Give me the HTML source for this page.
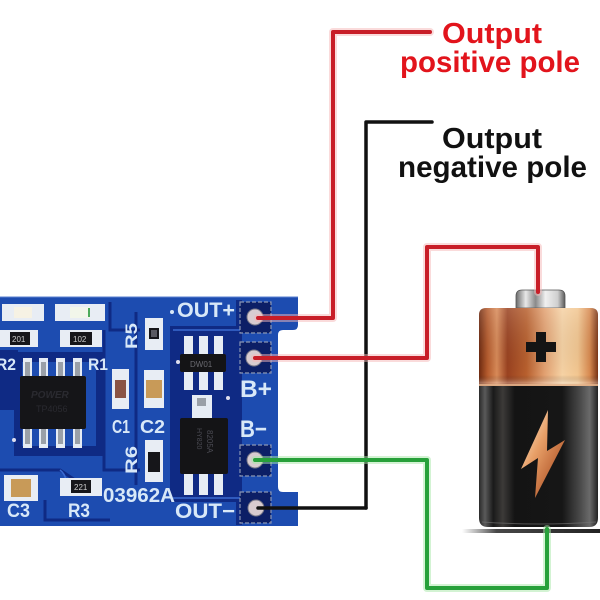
<!DOCTYPE html>
<html><head><meta charset="utf-8"><style>html,body{margin:0;padding:0;background:#fff;width:600px;height:600px;overflow:hidden}svg{display:block}</style></head><body>
<svg width="600" height="600" viewBox="0 0 600 600" xmlns="http://www.w3.org/2000/svg" font-family="'Liberation Sans', sans-serif">
<defs>
 <linearGradient id="cu" x1="0" x2="1" y1="0" y2="0">
  <stop offset="0" stop-color="#6e2a10"/><stop offset="0.07" stop-color="#b45a2c"/><stop offset="0.15" stop-color="#d88a58"/>
  <stop offset="0.24" stop-color="#9a4220"/><stop offset="0.4" stop-color="#b8602e"/><stop offset="0.55" stop-color="#e2a070"/>
  <stop offset="0.7" stop-color="#f6d2a4"/><stop offset="0.83" stop-color="#f2c690"/><stop offset="0.93" stop-color="#d88a50"/><stop offset="1" stop-color="#7a3414"/>
 </linearGradient>
 <linearGradient id="cuv" x1="0" x2="0" y1="0" y2="1">
  <stop offset="0" stop-color="#fff" stop-opacity="0.15"/><stop offset="0.85" stop-color="#000" stop-opacity="0"/><stop offset="0.95" stop-color="#fff" stop-opacity="0.3"/><stop offset="1" stop-color="#000" stop-opacity="0.2"/>
 </linearGradient>
 <linearGradient id="bk" x1="0" x2="1" y1="0" y2="0">
  <stop offset="0" stop-color="#2a2a2a"/><stop offset="0.05" stop-color="#5a5a5a"/><stop offset="0.12" stop-color="#1a1a1a"/>
  <stop offset="0.2" stop-color="#3c3a38"/><stop offset="0.3" stop-color="#141414"/><stop offset="0.7" stop-color="#161616"/>
  <stop offset="0.85" stop-color="#4a4a4a"/><stop offset="0.93" stop-color="#6a6a6a"/><stop offset="1" stop-color="#222"/>
 </linearGradient>
 <linearGradient id="cap" x1="0" x2="1" y1="0" y2="0">
  <stop offset="0" stop-color="#6a6a6a"/><stop offset="0.2" stop-color="#e8e8e8"/><stop offset="0.4" stop-color="#8a8a8a"/>
  <stop offset="0.6" stop-color="#f0f0f0"/><stop offset="0.85" stop-color="#cfcfcf"/><stop offset="1" stop-color="#5a5a5a"/>
 </linearGradient>
 <linearGradient id="bolt" x1="0" x2="1" y1="0" y2="1">
  <stop offset="0" stop-color="#fff4e0"/><stop offset="0.4" stop-color="#e8a068"/><stop offset="0.7" stop-color="#c06a3a"/><stop offset="1" stop-color="#f8e0c8"/>
 </linearGradient>
 <linearGradient id="shd" x1="0" x2="1" y1="0" y2="0">
  <stop offset="0" stop-color="#444" stop-opacity="0"/><stop offset="0.25" stop-color="#333" stop-opacity="0.9"/><stop offset="1" stop-color="#222"/>
 </linearGradient>
</defs>

<!-- PCB -->
<path d="M0,297 H298 V325 Q298,330 293,330 H283 Q278,330 278,335 V487 Q278,492 283,492 H298 V526 H0 Z" fill="#1d4cb0"/>
<path d="M0,297 H298" stroke="#5a80d0" stroke-width="1"/>
<!-- dark regions / traces -->
<g fill="#0f2a84">
 <rect x="0" y="350" width="18" height="60"/>
 <rect x="14" y="352" width="88" height="10"/>
 <rect x="14" y="446" width="88" height="10"/>
 <rect x="14" y="352" width="8" height="104"/>
 <rect x="96" y="352" width="8" height="104"/>
 <rect x="170" y="326" width="70" height="176"/>
 <rect x="236" y="300" width="6" height="225"/>
</g>
<g stroke="#0f2a84" stroke-width="3" fill="none">
 <path d="M104,330 V470 H140"/>
 <path d="M136,312 V485"/>
 <path d="M0,470 H60 L75,480"/>
 <path d="M110,302 V330 H140"/>
 <path d="M45,500 V520 H110"/>
</g>
<g stroke="#3a6ad0" stroke-width="1.5" fill="none">
 <path d="M173,330 H240"/><path d="M173,498 H240"/>
 <path d="M60,470 Q70,478 62,490"/>
</g>

<!-- chip 1 -->
<g fill="#e6ecf4">
 <rect x="23" y="358" width="9" height="20"/><rect x="39" y="358" width="9" height="20"/><rect x="56" y="358" width="9" height="20"/><rect x="73" y="358" width="9" height="20"/>
 <rect x="23" y="428" width="9" height="20"/><rect x="39" y="428" width="9" height="20"/><rect x="56" y="428" width="9" height="20"/><rect x="73" y="428" width="9" height="20"/>
</g>
<g fill="#9aa0a8">
 <rect x="25" y="362" width="5" height="15"/><rect x="41" y="362" width="5" height="15"/><rect x="58" y="362" width="5" height="15"/><rect x="75" y="362" width="5" height="15"/>
 <rect x="25" y="429" width="5" height="15"/><rect x="41" y="429" width="5" height="15"/><rect x="58" y="429" width="5" height="15"/><rect x="75" y="429" width="5" height="15"/>
</g>
<rect x="20" y="376" width="66" height="53" rx="2" fill="#151518"/>
<text x="31" y="398" font-size="10" fill="#2a2a30" font-style="italic" font-weight="bold">POWER</text>
<text x="36" y="412" font-size="9" fill="#2a2a30">TP4056</text>
<circle cx="14" cy="440" r="2" fill="#dde"/>

<!-- chip 2 DW01 -->
<g fill="#e6ecf4">
 <rect x="184" y="336" width="9" height="20"/><rect x="199" y="336" width="9" height="20"/><rect x="214" y="336" width="9" height="20"/>
 <rect x="184" y="371" width="9" height="19"/><rect x="199" y="371" width="9" height="19"/><rect x="214" y="371" width="9" height="19"/>
</g>
<rect x="180" y="354" width="46" height="18" rx="2" fill="#141416"/>
<text x="190" y="367" font-size="8" fill="#6a6a70">DW01</text>
<circle cx="178" cy="362" r="2" fill="#dde"/>
<circle cx="228" cy="398" r="2" fill="#dde"/>

<!-- chip 3 8205A -->
<rect x="192" y="395" width="20" height="24" fill="#e6ecf4"/>
<rect x="197" y="398" width="9" height="8" fill="#9aa0a8"/>
<g fill="#e6ecf4">
 <rect x="184" y="472" width="9" height="23"/><rect x="199" y="472" width="9" height="23"/><rect x="214" y="472" width="9" height="23"/>
</g>
<rect x="180" y="418" width="48" height="56" rx="2" fill="#141416"/>
<text x="0" y="0" font-size="8" fill="#4a4a52" transform="translate(207,430) rotate(90)">8205A</text>
<text x="0" y="0" font-size="7" fill="#4a4a52" transform="translate(197,428) rotate(90)">HY820</text>

<!-- LEDs -->
<rect x="2" y="304" width="42" height="17" fill="#e8edf4"/>
<rect x="14" y="307" width="18" height="11" fill="#f6f2e4"/>
<rect x="55" y="304" width="50" height="17" fill="#e8edf4"/>
<rect x="70" y="307" width="20" height="11" fill="#f2f6ea"/>
<rect x="88" y="308" width="2" height="9" fill="#4caa5a"/>
<!-- resistors 201 102 -->
<rect x="0" y="330" width="38" height="17" fill="#e8edf4"/>
<rect x="10" y="332" width="20" height="13" fill="#16161a"/>
<text x="12" y="342" font-size="8" fill="#ccc">201</text>
<rect x="60" y="330" width="42" height="17" fill="#e8edf4"/>
<rect x="70" y="332" width="22" height="13" fill="#16161a"/>
<text x="73" y="342" font-size="8" fill="#ccc">102</text>
<!-- C1 -->
<rect x="112" y="369" width="17" height="40" fill="#e8edf4"/>
<rect x="115" y="380" width="11" height="18" fill="#8a5444"/>
<!-- C2 -->
<rect x="144" y="370" width="20" height="38" fill="#e8edf4"/>
<rect x="146" y="380" width="16" height="18" fill="#c89a58"/>
<!-- R5 -->
<rect x="145" y="318" width="18" height="32" fill="#e8edf4"/>
<rect x="149" y="328" width="10" height="11" fill="#16161a"/>
<rect x="151" y="330" width="6" height="7" fill="#5a5a62"/>
<!-- R6 -->
<rect x="145" y="440" width="18" height="42" fill="#e8edf4"/>
<rect x="148" y="452" width="12" height="20" fill="#16161a"/>
<!-- C3 -->
<rect x="4" y="475" width="34" height="26" fill="#e8edf4"/>
<rect x="11" y="479" width="20" height="18" fill="#c89a58"/>
<!-- R3 -->
<rect x="60" y="478" width="42" height="18" fill="#e8edf4"/>
<rect x="71" y="480" width="20" height="13" fill="#16161a"/>
<text x="74" y="490" font-size="8" fill="#ccc">221</text>

<!-- silkscreen labels -->
<g fill="#d8e8f8" font-weight="bold">
 <circle cx="172" cy="312" r="2"/>
 <text x="177" y="317" font-size="21" textLength="58" lengthAdjust="spacingAndGlyphs">OUT+</text>
 <text x="240" y="397" font-size="24" textLength="32" lengthAdjust="spacingAndGlyphs">B+</text>
 <text x="240" y="437" font-size="24" textLength="27" lengthAdjust="spacingAndGlyphs">B−</text>
 <text x="175" y="518" font-size="21" textLength="60" lengthAdjust="spacingAndGlyphs">OUT−</text>
 <text x="103" y="502" font-size="20" textLength="72" lengthAdjust="spacingAndGlyphs">03962A</text>
 <text x="7" y="517" font-size="19" textLength="23" lengthAdjust="spacingAndGlyphs">C3</text>
 <text x="68" y="517" font-size="19" textLength="22" lengthAdjust="spacingAndGlyphs">R3</text>
 <text x="112" y="433" font-size="18" textLength="18" lengthAdjust="spacingAndGlyphs">C1</text>
 <text x="140" y="433" font-size="18" textLength="25" lengthAdjust="spacingAndGlyphs">C2</text>
 <text x="88" y="370" font-size="17" textLength="20" lengthAdjust="spacingAndGlyphs">R1</text>
 <text x="-4" y="370" font-size="17" textLength="20" lengthAdjust="spacingAndGlyphs">R2</text>
 <text x="0" y="0" font-size="17" textLength="26" lengthAdjust="spacingAndGlyphs" transform="translate(137,349) rotate(-90)">R5</text>
 <text x="0" y="0" font-size="17" textLength="28" lengthAdjust="spacingAndGlyphs" transform="translate(137,474) rotate(-90)">R6</text>
</g>

<!-- pads -->
<g fill="#0c1f66" stroke="#8a96b4" stroke-width="1.2" stroke-dasharray="4,2">
 <rect x="240" y="302" width="31" height="31"/>
 <rect x="240" y="342" width="31" height="31"/>
 <rect x="240" y="445" width="31" height="31"/>
 <rect x="240" y="492" width="31" height="31"/>
</g>
<g fill="#d8ccd0" stroke="#7a7a8a" stroke-width="1">
 <circle cx="255" cy="317" r="8"/>
 <circle cx="254" cy="358" r="8"/>
 <circle cx="255" cy="460" r="8"/>
 <circle cx="256" cy="508" r="8"/>
</g>

<!-- battery -->
<rect x="462" y="529" width="138" height="4" fill="url(#shd)"/>
<path d="M516,308 V296 Q516,290 522,290 H559 Q565,290 565,296 V308 Z" fill="url(#cap)" stroke="#555" stroke-width="0.8"/>
<path d="M479,387 V315 Q479,308 486,308 H591 Q598,308 598,315 V387 Z" fill="url(#cu)"/>
<path d="M479,387 V315 Q479,308 486,308 H591 Q598,308 598,315 V387 Z" fill="url(#cuv)"/>
<path d="M479,386 H598 V518 Q598,527 589,527 H488 Q479,527 479,518 Z" fill="url(#bk)"/>
<rect x="479" y="384" width="119" height="2" fill="#e8b890" opacity="0.8"/>
<path d="M482,522 Q540,526 596,522" stroke="#777" stroke-width="1" fill="none" opacity="0.6"/>
<path d="M536,332 H546 V342 H556 V352 H546 V362 H536 V352 H526 V342 H536 Z" fill="#141414"/>
<path d="M548,410 L521,469 L538,458 L535,498 L565,440 L547,451 Z" fill="url(#bolt)"/>

<!-- wires -->
<g fill="none" stroke-linejoin="round" stroke-linecap="round">
 <polyline points="366,508 366,122 432,122" stroke="#111" stroke-width="3.5"/>
 <polyline points="258,508 366,508" stroke="#111" stroke-width="3.5"/>
 <polyline points="258,318 333,318 333,32 430,32" stroke="#f6b8b8" stroke-width="8" opacity="0.5"/>
 <polyline points="258,318 333,318 333,32 430,32" stroke="#c81e28" stroke-width="4"/>
 <polyline points="255,358 427,358 427,247 538,247 538,292" stroke="#f6b8b8" stroke-width="8" opacity="0.5"/>
 <polyline points="255,358 427,358 427,247 538,247 538,292" stroke="#c81e28" stroke-width="4"/>
 <polyline points="255,460 427,460 427,588 547,588 547,529" stroke="#a8e8a8" stroke-width="8" opacity="0.5"/>
 <polyline points="255,460 427,460 427,588 547,588 547,529" stroke="#27a03a" stroke-width="4"/>
</g>

<!-- labels -->
<g font-weight="bold" text-anchor="start">
 <text x="442" y="43" font-size="29" fill="#e2141c" textLength="100" lengthAdjust="spacingAndGlyphs">Output</text>
 <text x="400" y="72" font-size="30" fill="#e2141c" textLength="180" lengthAdjust="spacingAndGlyphs">positive pole</text>
 <text x="442" y="148" font-size="29" fill="#111" textLength="100" lengthAdjust="spacingAndGlyphs">Output</text>
 <text x="398" y="177" font-size="30" fill="#111" textLength="189" lengthAdjust="spacingAndGlyphs">negative pole</text>
</g>
</svg>
</body></html>
